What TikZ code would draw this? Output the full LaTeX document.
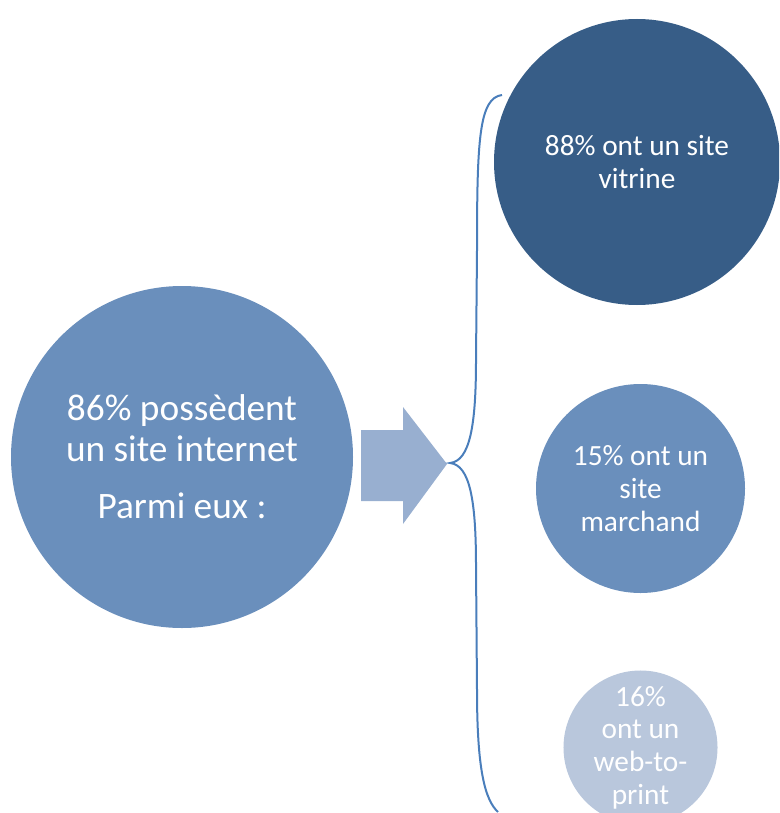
\documentclass[tikz,border=0pt]{standalone}
\usepackage{fontspec}
\setmainfont{Carlito}

\definecolor{bleu}{HTML}{6A8FBC}
\definecolor{bleufonce}{HTML}{375D87}
\definecolor{bleuclair}{HTML}{B9C7DC}
\definecolor{fleche}{HTML}{98AFD0}
\definecolor{accolade}{HTML}{4A7EBB}

\tikzset{
    rond/.style={circle, inner sep=0pt, align=center, text=white},
    petit/.style={font=\fontsize{22}{24.5}\selectfont}
}

\begin{document}
\begin{tikzpicture}[x=0.75pt, y=-0.75pt]
                \useasboundingbox (0,0) rectangle (779,813);
                \clip (0,0) rectangle (779,813);

                \node[rond, fill=bleu, minimum size=342*0.75pt, font=\fontsize{28}{30.75}\selectfont] (internet) at (182,457)
                    {86\% possèdent\\un site internet\\[12pt]Parmi eux :};

                \fill[fleche] (361,430) -- (403,430) -- (403,407) -- (447,464) -- (403,524) -- (403,501) -- (361,501) -- cycle;

                \node[rond, petit, fill=bleufonce, minimum size=286*0.75pt] (vitrine) at (637,162) {88\% ont un site\\vitrine};
                \node[rond, petit, fill=bleu, minimum size=209*0.75pt] (marchand) at (640.5,488.5) {15\% ont un\\site\\marchand};
                \node[rond, petit, fill=bleuclair, minimum size=141*0.75pt] (print) at (640.5,747.5) {16\%\\ont un\\web-to-\\print};

                % accolade
                \coordinate (haut) at (502,95);
                \coordinate (pointe) at (450,463);
                \coordinate (bas) at (498,812);
                \draw[accolade, line width=1.5pt] (haut) .. controls (479,98) and (477,140) .. (477,250)
                    -- (476,360) .. controls (476,425) and (470,461) .. (pointe)
                    .. controls (470,465) and (476,501) .. (476,566)
                    -- (477,690) .. controls (477,770) and (485,800) .. (bas);
            \end{tikzpicture}
\end{document}
